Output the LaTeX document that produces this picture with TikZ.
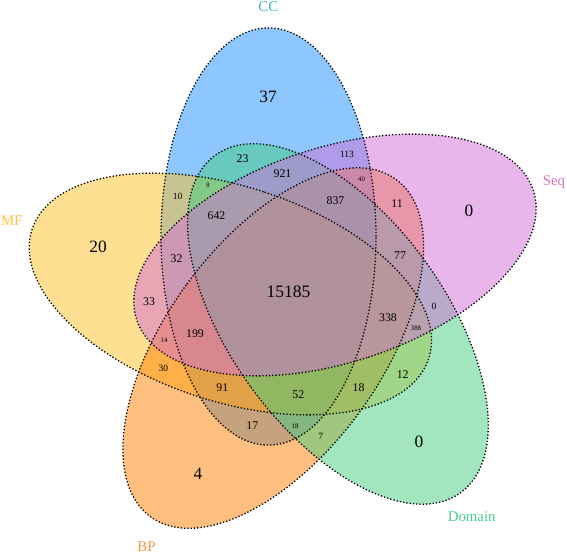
\documentclass[tikz,border=0pt]{standalone}
\usepackage{fontspec}
\setmainfont{Liberation Serif}
\usepackage{tikz}

\definecolor{CCfill}{RGB}{30,144,255}
\definecolor{MFfill}{RGB}{255,193,37}
\definecolor{BPfill}{RGB}{255,127,0}
\definecolor{Domainfill}{RGB}{67,205,128}
\definecolor{Seqfill}{RGB}{210,110,214}
\definecolor{CCtext}{RGB}{64,178,196}
\definecolor{MFtext}{RGB}{255,196,60}
\definecolor{BPtext}{RGB}{242,150,64}
\definecolor{Domaintext}{RGB}{72,206,140}
\definecolor{Seqtext}{RGB}{222,112,192}

\begin{document}
\begin{tikzpicture}[x=1pt, y=-1pt]
	\tikzstyle{Petal}	= [fill opacity=0.5]
	\tikzstyle{Border}	= [draw=black, line width=1.3pt, dash pattern=on 1.3pt off 2pt]
	\tikzstyle{Big}		= [inner sep=0pt, font=\fontsize{17.3}{20}\selectfont]
	\tikzstyle{Core}	= [inner sep=0pt, font=\fontsize{17.5}{20}\selectfont]
	\tikzstyle{Mid}		= [inner sep=0pt, font=\fontsize{11.8}{14}\selectfont]
	\tikzstyle{Small}	= [inner sep=0pt, font=\fontsize{9.5}{11}\selectfont]
	\tikzstyle{Tiny}	= [inner sep=0pt, font=\fontsize{6.8}{8}\selectfont]
	\tikzstyle{SetName}	= [inner sep=0pt, anchor=base, font=\fontsize{14.8}{17}\selectfont]

	\useasboundingbox (0,0) rectangle (567,554);

	% the five sets, turned by 72 degrees about the centre
	\foreach \k/\col in {0/CCfill, 4/MFfill, 3/BPfill, 2/Domainfill, 1/Seqfill}
		\fill [Petal, fill=\col, shift={(289,291.5)}, rotate=-72*\k] (-20.5,-55) ellipse [x radius=107.5pt, y radius=208.6pt];
	\foreach \k in {0,...,4}
		\draw [Border, shift={(289,291.5)}, rotate=-72*\k] (-20.5,-55) ellipse [x radius=107.5pt, y radius=208.6pt];

	% region counts
	\foreach \x/\y/\t [count=\i] in {268/97/37, 469/211/0, 98/247/20, 419/441.7/0, 198/474/4}
		\node (big\i) at (\x, \y) [Big] {\t};
	\node (core) at (288.5, 292) [Core] {15185};
	\foreach \x/\y/\t [count=\i] in {242.5/158.5/23, 282.5/174/921, 216.5/216/642, 335.5/201/837, 397/204/11,
			176.5/259/32, 400/255.5/77, 149/301.5/33, 388/317.3/338, 195/333.3/199, 402.7/374.3/12,
			222.3/387.2/91, 358.5/387.3/18, 298.3/395/52, 252.3/426/17}
		\node (mid\i) at (\x, \y) [Mid] {\t};
	\foreach \x/\y/\t [count=\i] in {347/154/113, 177.5/196/10, 434/306/0, 163.3/368/30, 320.7/436.7/7}
		\node (small\i) at (\x, \y) [Small] {\t};
	\foreach \x/\y/\t [count=\i] in {361.5/179/40, 208/185/8, 416/328.3/388, 164/340/14, 295.2/426/18}
		\node (tiny\i) at (\x, \y) [Tiny] {\t};

	% set names
	\node (cc) at (268.3, 11) [SetName, CCtext] {CC};
	\node (seq) at (554, 185) [SetName, Seqtext] {Seq};
	\node (domain) at (471.7, 521.7) [SetName, Domaintext] {Domain};
	\node (bp) at (146.5, 551.5) [SetName, BPtext] {BP};
	\node (mf) at (11.7, 225) [SetName, MFtext] {MF};
\end{tikzpicture}
\end{document}
